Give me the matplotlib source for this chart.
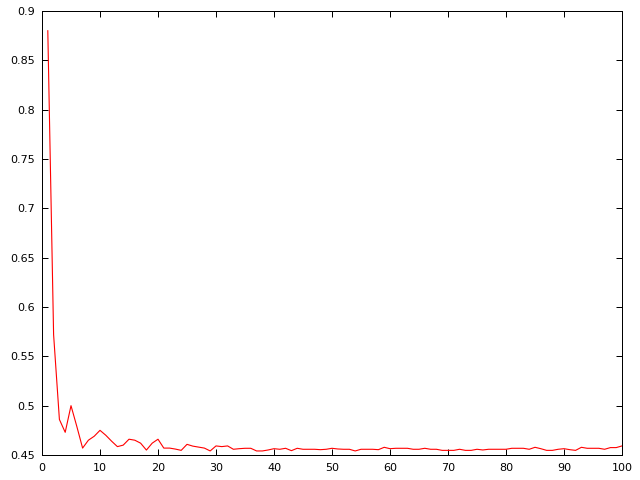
import matplotlib
matplotlib.use("Agg")
import matplotlib.pyplot as plt

x_values = list(range(1, 101))
y_values = [
    0.880, 0.572, 0.486, 0.473, 0.500, 0.479, 0.457, 0.465, 0.469, 0.475,
    0.470, 0.464, 0.4585, 0.460, 0.466, 0.465, 0.462, 0.455, 0.462, 0.466,
    0.457, 0.457, 0.456, 0.4547, 0.4608, 0.459, 0.458, 0.457, 0.4541, 0.4592,
    0.4585, 0.4592, 0.4558, 0.4564, 0.4568, 0.4568, 0.4541, 0.4541, 0.4551, 0.4564,
    0.4558, 0.4568, 0.4544, 0.4568, 0.4558, 0.4558, 0.4558, 0.4554, 0.4558, 0.4568,
    0.4561, 0.4558, 0.4558, 0.4541, 0.4558, 0.4558, 0.4558, 0.4554, 0.4578, 0.4564,
    0.4568, 0.4568, 0.4568, 0.4558, 0.4558, 0.4568, 0.4558, 0.4558, 0.4547, 0.4547,
    0.4547, 0.4558, 0.4547, 0.4547, 0.4558, 0.4551, 0.4558, 0.4558, 0.4558, 0.4558,
    0.4568, 0.4568, 0.4568, 0.4558, 0.4578, 0.4564, 0.4547, 0.4547, 0.4558, 0.4564,
    0.4554, 0.4547, 0.4578, 0.4568, 0.4568, 0.4568, 0.4558, 0.4575, 0.4575, 0.4592,
]
x_ticks = [0, 10, 20, 30, 40, 50, 60, 70, 80, 90, 100]
x_tick_labels = ["0", "10", "20", "30", "40", "50", "60", "70", "80", "90", "100"]
y_ticks = [0.45, 0.5, 0.55, 0.6, 0.65, 0.7, 0.75, 0.8, 0.85, 0.9]
y_tick_labels = ["0.45", "0.5", "0.55", "0.6", "0.65", "0.7", "0.75", "0.8", "0.85", "0.9"]

fig = plt.figure(figsize=(6.4, 4.8), dpi=100)
ax = fig.add_axes([42 / 640, 1 - 455 / 480, 580 / 640, 444 / 480])
ax.plot(x_values, y_values, color="#ff0000", linewidth=0.8, antialiased=True)
ax.set_xlim(0, 100)
ax.set_ylim(0.45, 0.9)
ax.set_xticks(x_ticks)
ax.set_xticklabels(x_tick_labels)
ax.set_yticks(y_ticks)
ax.set_yticklabels(y_tick_labels)
ax.tick_params(direction="in", length=4, width=0.72, top=True, right=True,
               labelsize=8, colors="black")
ax.tick_params(axis="x", pad=6)
ax.tick_params(axis="y", pad=5)
for s in ax.spines.values():
    s.set_linewidth(0.72)
fig.savefig("out.png", dpi=100)
